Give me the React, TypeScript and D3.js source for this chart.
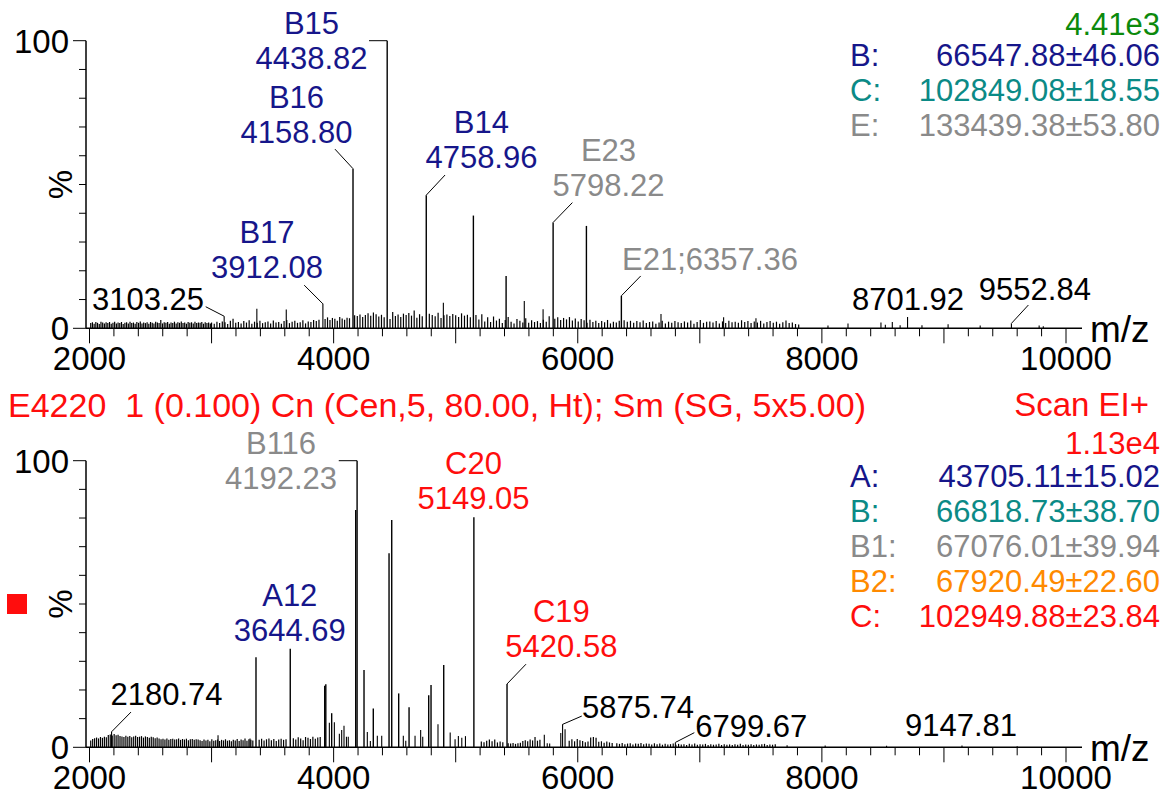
import * as d3 from 'd3'

const NAVY = '#16168a'
const TEAL = '#0b8a86'
const GREY = '#8a8a8a'
const GREEN = '#0c8a0c'
const RED = '#ff0d0d'
const ORANGE = '#ff8a00'
const FONT = "'Liberation Sans', Arial, Helvetica, sans-serif"

// ---- top spectrum ----
// baseline noise: start m/z, spacing, heights (%)
const topNoise = [
  { start: 2010, step: 14, h: [1.8,2.1,1.6,2.2,1.9,1.5,2.3,2.0,1.7,2.1,1.8,2.2,1.6,1.9,2.3,1.7,2.0,1.8,2.2,1.5,1.9,2.1,1.7,2.3,1.8,2.0,1.6,2.2,1.9,2.4,1.7,2.0,1.8,2.1,1.6,2.2,1.9,1.7,2.3,2.0,1.8,2.9,1.7,2.1,1.9,2.2,1.6,2.0,1.8,2.3,1.7,2.1,1.9,2.4,1.8,2.0,1.6,2.2,1.9,2.1,1.7,2.3,1.8,2.0,1.9,2.2,1.6,2.1,1.8,2.0,1.7] },
  { start: 3000, step: 22, h: [2.0,1.6,2.3,1.8,2.4,2.1,1.5,2.6,3.3,1.9,2.2,1.7,2.5,2.0,2.8,1.6,2.3,1.9,2.6,1.8,2.1,2.4,1.7,2.7,2.0,2.2,1.6,2.5,2.9,1.8,2.3,2.6,1.9,2.1,2.8,1.7,2.4,2.2,2.9,2.5,3.0] },
  { start: 3930, step: 20, h: [3.2,3.8,2.9,3.6,3.3,2.6,3.9,3.4,3.0,3.7,3.5] },
  { start: 4172, step: 22, h: [4.5,4.3,4.8,3.9,4.6,5.2,4.4,5.5,4.9,4.1,4.7,3.8] },
  { start: 4462, step: 22, h: [3.2,5.7,4.3,4.8,3.9,5.1,4.6,5.3,4.4,6.2,3.7,4.9,4.2] },
  { start: 4784, step: 24, h: [5.1,4.6,4.2,5.4,3.6,4.5,4.8,4.3,5.0,4.5,3.9,5.2,4.4,4.7,3.8] },
  { start: 5166, step: 24, h: [4.6,3.1,4.9,2.4,3.8,2.2,4.1,2.7,3.3,1.8,2.9,3.9,2.3,1.7,3.2,2.6,2.0,3.5,1.9,2.8,2.2,2.5,1.8,3.0,2.3,4.2] },
  { start: 5812, step: 24, h: [3.3,3.8,2.9,3.6,3.1,3.9,2.7,3.4,2.4,3.2,2.8,1.9,3.0,2.2,2.6,1.8,2.5,2.1,2.9,1.7,2.3,2.0,2.6] },
  { start: 6380, step: 26, h: [2.8,2.3,2.6,1.9,2.5,2.1,2.7,1.8,2.2,2.4,1.6,2.0,2.6,1.7,2.3,1.9,2.5,2.1,1.8,2.4,2.0,2.7,1.6,2.2,2.9,1.9,2.3,2.4,2.0,2.5,1.7,2.4,1.8,2.6,2.1,2.3,1.9,2.8,2.2,2.5,1.8,2.4,2.0,2.6,1.7,2.2,2.5,1.9,2.3,1.6,2.1,2.7,1.8,2.0,1.5,1.3] },
]

// [m/z, %]
const topPeaks = [
  [3103.25, 4.2], [3371, 6.8], [3612, 6.5], [3912.08, 8.5], [4158.8, 55.5],
  [4438.82, 100], [4758.96, 46.3], [4899, 8.9], [5145, 39.2], [5413, 18.2],
  [5562, 9.5], [5716, 6.6], [5798.22, 36.8], [6071, 35.6], [6357.36, 11.3],
  [6682, 5.0], [7195, 3.8], [7460, 3.5], [8050, 1.0], [8214, 1.7], [8484, 2.0],
  [8520, 1.2], [8577, 2.2], [8641, 1.1], [8701.92, 3.9], [8820, 1.1],
  [9034, 1.4], [9297, 1.0], [9552.84, 1.7], [9780, 1.0], [9814, 0.7],
]

// label: lines, colour, centre m/z, baseline % of last line, optional leader [from, to]
const topLabels = [
  { lines: ['B15', '4438.82'], color: NAVY, mz: 3819, pct: 90.2, leader: [[4290, 100], [4438.82, 100]] },
  { lines: ['B16', '4158.80'], color: NAVY, mz: 3696, pct: 64.4, leader: [[4011, 62.3], [4158.8, 55.5]] },
  { lines: ['B14', '4758.96'], color: NAVY, mz: 5211, pct: 55.7, leader: [[4913, 53.3], [4758.96, 46.3]] },
  { lines: ['E23', '5798.22'], color: GREY, mz: 6252, pct: 46.0, leader: [[5956, 43.7], [5798.22, 36.8]] },
  { lines: ['E21;6357.36'], color: GREY, mz: 6363, pct: 20.3, anchor: 'start', leader: [[6516, 18.2], [6357.36, 11.3]] },
  { lines: ['B17', '3912.08'], color: NAVY, mz: 3454, pct: 17.6, leader: [[3759, 15.0], [3912.08, 8.5]] },
  { lines: ['3103.25'], color: '#000', mz: 2479, pct: 6.4, leader: [[2952, 7.5], [3103.25, 4.2]] },
  { lines: ['8701.92'], color: '#000', mz: 8706, pct: 6.4 },
  { lines: ['9552.84'], color: '#000', mz: 9745, pct: 9.8, leader: [[9692, 8.1], [9552.84, 1.7]] },
]

const topIntensity = '4.41e3'
const topLegend = [
  { key: 'B:', value: '66547.88±46.06', color: NAVY },
  { key: 'C:', value: '102849.08±18.55', color: TEAL },
  { key: 'E:', value: '133439.38±53.80', color: GREY },
]

// ---- bottom spectrum ----
const botNoise = [
  { start: 2010, step: 16, h: [2.4,2.9,3.2,3.4,3.1,3.6,3.3,3.7,3.5,4.3,4.5,4.1,4.6,4.2,4.4,3.9,3.8,3.6,4.0,3.7,3.9,3.5,3.8,4.0,3.6,3.7,3.9,3.4,3.8,3.6,3.3,3.7,3.5,3.2,3.4,3.1,2.8,3.0,2.7,3.1,2.6,2.9,3.0,2.7,2.8,3.1,2.6,2.9,2.7,3.0,2.5,2.8,2.9,2.6,2.8,2.7,2.5,2.2,2.7,2.4,2.6,2.1,2.8,2.3,2.5,2.7,2.2,2.6,2.4,2.8,2.3,2.5,2.1,2.6,2.4,2.9,2.2,2.7,2.5,3.1,2.3,2.8,2.6,2.4] },
  { start: 3390, step: 20, h: [2.6,3.0,2.4,2.8,3.1,2.5,2.9,2.2,2.7,3.0,2.6,2.8] },
  { start: 3670, step: 20, h: [3.2,2.7,3.5,3.1,2.5,3.6,3.3,2.9,3.7,3.0,3.4,3.6] },
  { start: 5210, step: 22, h: [2.0,1.8,2.3,2.7,2.1,2.7,1.7,2.0,1.8] },
  { start: 5430, step: 20, h: [1.4,1.3,1.5,1.2,1.4,1.6,2.2,2.5,2.1,2.7,2.4,3.6,2.3,2.6] },
  { start: 5930, step: 22, h: [2.3,2.8,2.1,2.9,2.5,2.2,1.8,2.0,3.4,3.6,3.3,1.9,2.1,1.6,2.0,1.7,1.5] },
  { start: 6320, step: 22, h: [1.4,1.2,1.5,1.1,1.3,1.4,1.0,1.3,1.2,1.5,1.1,1.3,1.2,1.0,1.4,1.1,1.3,0.9,1.2,1.0,1.1,1.3,0.9,1.2,1.0,1.1,0.8,1.2,1.0,1.3,0.9,1.1,1.0,1.2,0.8,1.1,0.9,1.0,1.2,0.8,1.1,0.9,1.0,0.8,1.1,0.9,1.2,0.8,1.0,0.9,1.1,0.8,1.0,0.9,1.1,1.2,0.8,1.0,0.9,1.1] },
]

const botPeaks = [
  [2180.74, 5.4], [3053, 4.2], [3315, 3.1], [3364, 31.4], [3644.69, 34.4],
  [3927, 21.5], [3936, 22.0], [3965, 8.6], [3984, 11.9], [4006, 8.7], [4047, 4.7],
  [4066, 6.0], [4085, 7.5], [4105, 3.7], [4120, 3.7], [4181, 82.8], [4192.23, 100],
  [4249, 27.0], [4276, 5.3], [4301, 2.2], [4325, 13.5], [4358, 4.0], [4394, 4.0],
  [4454, 67.7], [4476, 79.3], [4533, 18.8], [4571, 4.0], [4591, 2.3], [4618, 14.0],
  [4667, 4.0], [4713, 6.0], [4730, 3.7], [4779, 18.2], [4798, 21.7], [4855, 8.0],
  [4902, 28.7], [4955, 5.2], [4995, 2.8], [5022, 3.9], [5050, 3.3], [5080, 3.9],
  [5149.05, 80.3], [5420.58, 22.1], [5726, 4.4], [5750, 1.4], [5770, 1.3],
  [5861, 5.0], [5875.74, 8.0], [5896, 6.3], [6799.67, 1.7], [7715, 0.7],
  [8027, 0.6], [8530, 0.5], [9147.81, 0.6], [9600, 0.4],
]

const botLabels = [
  { lines: ['B116', '4192.23'], color: GREY, mz: 3569, pct: 90.3, leader: [[4042, 100], [4192.23, 100]] },
  { lines: ['C20', '5149.05'], color: RED, mz: 5146, pct: 83.1 },
  { lines: ['A12', '3644.69'], color: NAVY, mz: 3641, pct: 37.1 },
  { lines: ['C19', '5420.58'], color: RED, mz: 5866, pct: 31.4, leader: [[5576, 29.0], [5420.58, 22.1]] },
  { lines: ['2180.74'], color: '#000', mz: 2631, pct: 14.8, leader: [[2340, 12.3], [2180.74, 5.4]] },
  { lines: ['5875.74'], color: '#000', mz: 6494, pct: 10.1, leader: [[6033, 10.9], [5875.74, 8.0]] },
  { lines: ['6799.67'], color: '#000', mz: 7422, pct: 3.7, leader: [[6955, 5.1], [6799.67, 1.7]] },
  { lines: ['9147.81'], color: '#000', mz: 9140, pct: 3.9 },
]

const botTitle = 'E4220  1 (0.100) Cn (Cen,5, 80.00, Ht); Sm (SG, 5x5.00)'
const botScan = 'Scan EI+'
const botIntensity = '1.13e4'
const botLegend = [
  { key: 'A:', value: '43705.11±15.02', color: NAVY },
  { key: 'B:', value: '66818.73±38.70', color: TEAL },
  { key: 'B1:', value: '67076.01±39.94', color: GREY },
  { key: 'B2:', value: '67920.49±22.60', color: ORANGE },
  { key: 'C:', value: '102949.88±23.84', color: RED },
]

const xTickVals = d3.range(2000, 10001, 200)
const xLabelVals = [2000, 4000, 6000, 8000, 10000]
const yTickVals = d3.range(0, 101, 10)

const x = d3.scaleLinear().domain([2000, 10000]).range([89.5, 1066])

const Spectrum = ({ y, noise, peaks, labels, legend, legendTop }) => {
  const y0 = y(0)
  const noisePts = noise.flatMap(s => s.h.map((v, i) => [s.start + i * s.step, v]))
  const axisX = 86
  return (
    <g>
      {noisePts.map(([m, v], i) => (
        <line key={'n' + i} x1={x(m)} x2={x(m)} y1={y0} y2={y(v)} stroke='#000' strokeWidth={1.2} />
      ))}
      {peaks.map(([m, v], i) => (
        <line key={'p' + i} x1={x(m)} x2={x(m)} y1={y0} y2={y(v)} stroke='#000' strokeWidth={v > 10 ? 1.4 : 1.1} />
      ))}

      {/* y axis */}
      <line x1={axisX} x2={axisX} y1={y(100)} y2={y0} stroke='#000' strokeWidth={1.5} />
      {yTickVals.map(t => (
        <line key={t} x1={axisX - (t % 100 === 0 ? 13 : 7)} x2={axisX} y1={y(t)} y2={y(t)} stroke='#000' strokeWidth={1} />
      ))}
      {[0, 100].map(t => (
        <text key={t} x={69} y={y(t)} dy='0.36em' textAnchor='end' fontSize={33}>{t}</text>
      ))}
      <text transform={`translate(72, ${y(50)}) rotate(-90)`} textAnchor='middle' fontSize={33}>%</text>

      {/* x axis */}
      <line x1={axisX} x2={1082} y1={y0} y2={y0} stroke='#000' strokeWidth={1.5} />
      {xTickVals.map(t => (
        <line key={t} x1={x(t)} x2={x(t)} y1={y0} y2={y0 + (t % 1000 === 0 ? 15 : 8)} stroke='#000' strokeWidth={1} />
      ))}
      {xLabelVals.map(t => (
        <text key={t} x={x(t)} y={y0 + 42} textAnchor='middle' fontSize={33}>{t}</text>
      ))}
      <text x={1090} y={y0 + 13.5} fontSize={37}>m/z</text>

      {/* annotations */}
      {labels.map((a, i) => (
        <g key={'a' + i} fill={a.color}>
          {a.lines.map((s, k) => (
            <text key={k} x={x(a.mz)} y={y(a.pct) - (a.lines.length - 1 - k) * 35}
              textAnchor={a.anchor || 'middle'} fontSize={31}>{s}</text>
          ))}
          {a.leader && (
            <line x1={x(a.leader[0][0])} y1={y(a.leader[0][1])} x2={x(a.leader[1][0])} y2={y(a.leader[1][1])}
              stroke='#000' strokeWidth={1} />
          )}
        </g>
      ))}

      {/* legend */}
      {legend.map((l, i) => (
        <g key={'l' + i} fill={l.color} fontSize={31}>
          <text x={850} y={legendTop + i * 35}>{l.key}</text>
          <text x={1160} y={legendTop + i * 35} textAnchor='end'>{l.value}</text>
        </g>
      ))}
    </g>
  )
}

export default function App() {
  const yTop = d3.scaleLinear().domain([0, 100]).range([328.3, 40.7])
  const yBot = d3.scaleLinear().domain([0, 100]).range([747.3, 460.7])
  return (
    <svg width={1172} height={796} fontFamily={FONT}
      style={{ position: 'absolute', left: 0, top: 0, background: '#fff' }}>
      <Spectrum y={yTop} noise={topNoise} peaks={topPeaks} labels={topLabels} legend={topLegend} legendTop={66} />
      <text x={1160} y={35} textAnchor='end' fontSize={31} fill={GREEN}>{topIntensity}</text>

      <text x={8} y={416.5} fontSize={34} fill={RED} style={{ whiteSpace: 'pre' }}>{botTitle}</text>
      <text x={1149} y={416} textAnchor='end' fontSize={33} fill={RED}>{botScan}</text>
      <text x={1160} y={454} textAnchor='end' fontSize={31} fill={RED}>{botIntensity}</text>
      <rect x={7} y={594} width={20} height={20} fill={RED} />
      <Spectrum y={yBot} noise={botNoise} peaks={botPeaks} labels={botLabels} legend={botLegend} legendTop={486.7} />
    </svg>
  )
}
